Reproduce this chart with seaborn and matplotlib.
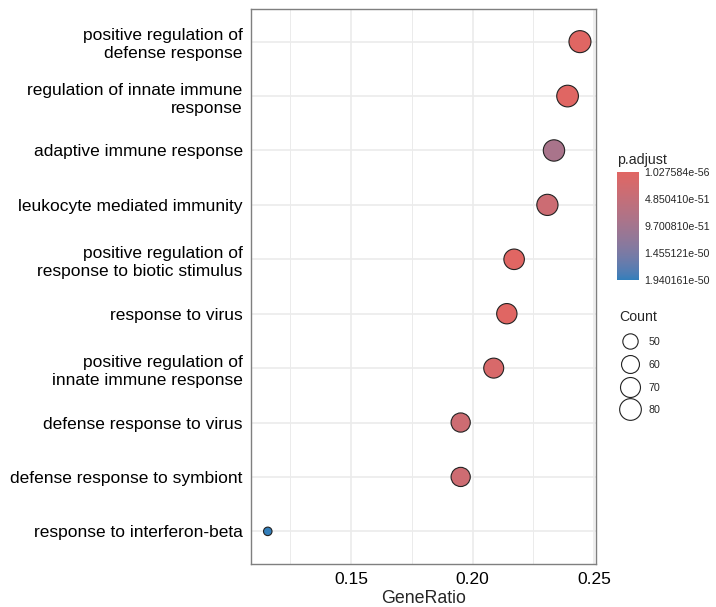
import numpy as np
import pandas as pd
import matplotlib
matplotlib.use("Agg")
import matplotlib.pyplot as plt
from matplotlib.colors import ListedColormap, Normalize
from matplotlib.cm import ScalarMappable
from matplotlib.lines import Line2D
import seaborn as sns

# ---------------- data ----------------
terms = [
    "positive regulation of\ndefense response",
    "regulation of innate immune\nresponse",
    "adaptive immune response",
    "leukocyte mediated immunity",
    "positive regulation of\nresponse to biotic stimulus",
    "response to virus",
    "positive regulation of\ninnate immune response",
    "defense response to virus",
    "defense response to symbiont",
    "response to interferon-beta",
]
gene_ratio = [0.2442, 0.2391, 0.2335, 0.2308, 0.2171, 0.2141, 0.2087, 0.1951, 0.1951, 0.1157]
counts = [82, 80, 78, 77, 73, 72, 70, 66, 66, 39]
p_adjust = [1.027584e-56, 5.0e-55, 8.9e-51, 3.5e-51, 2.0e-53, 1.0e-53, 1.5e-51, 3.3e-51, 3.4e-51, 1.940161e-50]

x_ticks = [0.15, 0.20, 0.25]
x_tick_labels = ["0.15", "0.20", "0.25"]
cbar_ticks = [1.027584e-56, 4.850410e-51, 9.700810e-51, 1.455121e-50, 1.940161e-50]
cbar_tick_labels = ["1.027584e-56", "4.850410e-51", "9.700810e-51", "1.455121e-50", "1.940161e-50"]
legend_counts = [50, 60, 70, 80]

df = pd.DataFrame({"Description": terms, "GeneRatio": gene_ratio,
                   "Count": counts, "p.adjust": p_adjust})

# ---------------- colour map (Lab interpolation, like ggplot) ----------------
def srgb_to_lab(rgb):
    rgb = np.asarray(rgb, float)
    lin = np.where(rgb <= 0.04045, rgb / 12.92, ((rgb + 0.055) / 1.055) ** 2.4)
    M = np.array([[0.4124, 0.3576, 0.1805], [0.2126, 0.7152, 0.0722], [0.0193, 0.1192, 0.9505]])
    xyz = M @ lin / np.array([0.95047, 1.0, 1.08883])
    f = np.where(xyz > 0.008856, np.cbrt(xyz), 7.787 * xyz + 16 / 116)
    return np.array([116 * f[1] - 16, 500 * (f[0] - f[1]), 200 * (f[1] - f[2])])

def lab_to_srgb(lab):
    L, a, b = lab
    fy = (L + 16) / 116
    fx = fy + a / 500
    fz = fy - b / 200
    f = np.array([fx, fy, fz])
    xyz = np.where(f ** 3 > 0.008856, f ** 3, (f - 16 / 116) / 7.787) * np.array([0.95047, 1.0, 1.08883])
    Minv = np.array([[3.2406, -1.5372, -0.4986], [-0.9689, 1.8758, 0.0415], [0.0557, -0.2040, 1.0570]])
    lin = Minv @ xyz
    rgb = np.where(lin <= 0.0031308, 12.92 * lin, 1.055 * np.clip(lin, 0, None) ** (1 / 2.4) - 0.055)
    return np.clip(rgb, 0, 1)

low_c = np.array([0xe0, 0x66, 0x63]) / 255
high_c = np.array([0x32, 0x7e, 0xba]) / 255
lab_lo, lab_hi = srgb_to_lab(low_c), srgb_to_lab(high_c)
cols = [lab_to_srgb(lab_lo + (lab_hi - lab_lo) * t) for t in np.linspace(0, 1, 256)]
cmap = ListedColormap(cols)
pmin, pmax = min(p_adjust), max(p_adjust)
norm = Normalize(vmin=pmin, vmax=pmax)

# ---------------- size mapping (ggplot area palette) ----------------
cmin, cmax = min(counts), max(counts)
def diam_pt(c):
    t = (c - cmin) / (cmax - cmin)
    return (8.5 + 13.5 * np.sqrt(t)) * 0.72

size_map = {c: diam_pt(c) ** 2 for c in sorted(set(counts))}

# ---------------- figure ----------------
sns.set_theme(style="white")
plt.rcParams["font.family"] = ["Liberation Sans", "DejaVu Sans"]

fig = plt.figure(figsize=(7.16, 6.07), dpi=100)
ax = fig.add_axes([251 / 716, 43 / 607, 345 / 716, 555 / 607])

sns.scatterplot(data=df, x="GeneRatio", y="Description", hue="p.adjust",
                palette=cmap, hue_norm=norm, size="Count", sizes=size_map,
                edgecolor="#222222", linewidth=0.8, legend=False, ax=ax, zorder=3)

ax.set_xlim(0.1088, 0.2508)
ax.set_ylim(len(terms) - 0.4, -0.6)
ax.set_xticks(x_ticks)
ax.set_xticklabels(x_tick_labels)
ax.set_xticks([0.125, 0.175, 0.225], minor=True)
ax.grid(True, which="major", color="#ebebeb", linewidth=1.2, zorder=0)
ax.grid(True, which="minor", axis="x", color="#ebebeb", linewidth=0.7, zorder=0)
ax.set_axisbelow(True)
for s in ax.spines.values():
    s.set_color("#7f7f7f")
    s.set_linewidth(1.0)
ax.tick_params(axis="both", which="major", length=3, width=0.8, color="#333333",
               labelsize=12.5, labelcolor="black", pad=3)
ax.tick_params(axis="x", which="minor", length=0)
ax.tick_params(axis="y", pad=3)
for lab in ax.get_yticklabels():
    lab.set_horizontalalignment("right")
    lab.set_multialignment("right")
    lab.set_linespacing(1.25)
ax.set_ylabel("")
ax.set_xlabel("GeneRatio", fontsize=12.8, labelpad=2)

# ---------------- colour bar ----------------
cax = fig.add_axes([617 / 716, (607 - 280) / 607, 22 / 716, 108 / 607])
sm = ScalarMappable(norm=norm, cmap=cmap)
cb = fig.colorbar(sm, cax=cax)
cb.outline.set_visible(False)
cax.invert_yaxis()
cb.set_ticks(cbar_ticks)
cb.set_ticklabels(cbar_tick_labels)
cax.tick_params(axis="y", length=4, width=0.6, color="white", direction="in",
                labelsize=7.7, pad=4, left=True, right=True)
fig.text(617 / 716, 1 - 160 / 607, "p.adjust", fontsize=10.2, ha="left", va="center")

# ---------------- size legend ----------------
handles = [Line2D([0], [0], marker="o", linestyle="none", markersize=diam_pt(c),
                  markerfacecolor="white", markeredgecolor="#222222", markeredgewidth=0.8)
           for c in legend_counts]
leg = fig.legend(handles, [str(c) for c in legend_counts], title="Count",
                 loc="upper left", bbox_to_anchor=(612 / 716, 1 - 303 / 607),
                 frameon=False, fontsize=7.7, title_fontsize=10.2,
                 handlelength=2.0, handleheight=1.0, handletextpad=0.7,
                 labelspacing=1.15, borderpad=0.2)
leg._legend_box.align = "left"
leg._legend_box._children[0].sep = 8  # gap between title and entries

fig.savefig("out.png", dpi=100)
